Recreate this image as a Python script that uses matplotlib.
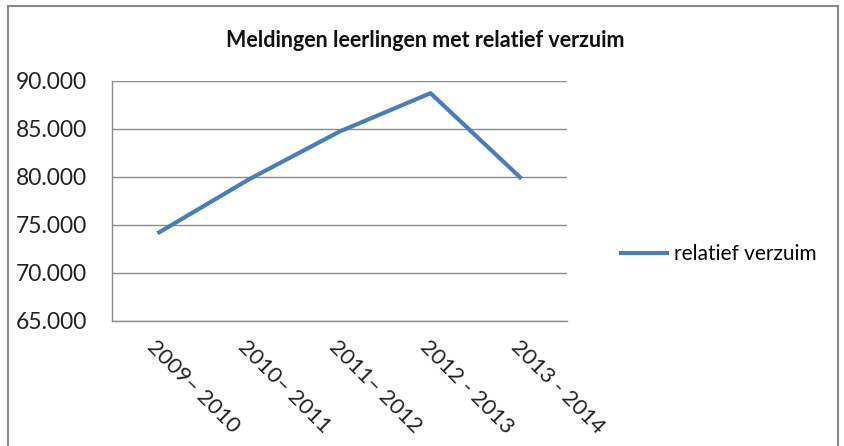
# chart: meldingen leerlingen met relatief verzuim

import matplotlib
matplotlib.use('Agg')
import matplotlib.pyplot as plt
from matplotlib.lines import Line2D
from matplotlib.ticker import FuncFormatter

years = ['2009\u2013 2010', '2010\u2013 2011', '2011\u2013 2012', '2012 - 2013', '2013 - 2014']
relatief = [74100, 79700, 84700, 88700, 79800]
y_ticks = [65000, 70000, 75000, 80000, 85000, 90000]

plt.rcParams['font.family'] = ['Lato', 'DejaVu Sans']

fig = plt.figure(figsize=(8.44, 4.46), dpi=100)
ax = fig.add_axes([112/844, 1-320.7/446, 455/844, 240/446])

x = list(range(len(years)))
line, = ax.plot(x, relatief, color='#4a7ebb', lw=3.0, solid_capstyle='butt',
                label='relatief verzuim')

ax.set_xlim(-0.5, len(years)-0.5)
ax.set_ylim(65000, 90000)
ax.set_yticks(y_ticks)
ax.yaxis.set_major_formatter(FuncFormatter(lambda v, p: '{:,.0f}'.format(v).replace(',', '.')))
ax.grid(axis='y', color='#8c8c8c', lw=1.0)
ax.set_axisbelow(True)
for s in ['top', 'right']:
    ax.spines[s].set_visible(False)
for s in ['left', 'bottom']:
    ax.spines[s].set_color('#8c8c8c')
    ax.spines[s].set_linewidth(1.0)
ax.tick_params(axis='y', length=0, pad=18, labelsize=16.5, colors='#222222')
ax.tick_params(axis='x', length=0)
ax.set_xticks(x)
ax.set_xticklabels([])
for i, lab in enumerate(years):
    ax.text(i + 0.0, 63300, lab, rotation=-45, rotation_mode='anchor',
            ha='left', va='top', fontsize=16, color='#222222', clip_on=False)

fig.text(0.504, 0.91, 'Meldingen leerlingen met relatief verzuim',
         ha='center', va='center', fontsize=15.5, fontweight='bold', color='#111111')

fig.legend(handles=[line], loc='center left', bbox_to_anchor=(0.724, 1-254/446),
           frameon=False, fontsize=15, handlelength=2.4, handletextpad=0.2,
           borderaxespad=0)

# outer chart border
for xs, ys in [([8/844, 838/844], [1-6/446, 1-6/446]),
               ([8/844, 8/844], [1-6/446, 0]),
               ([838/844, 838/844], [1-6/446, 0])]:
    fig.add_artist(Line2D(xs, ys, color='#8a8a8a', lw=1.5))

fig.savefig('out.png', dpi=100)
